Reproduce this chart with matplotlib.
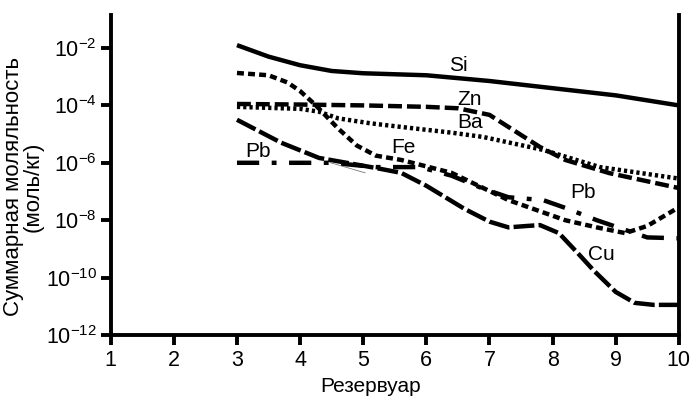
import numpy as np
import matplotlib
matplotlib.use('Agg')
import matplotlib.pyplot as plt

plt.rcParams['font.family'] = ['Liberation Sans', 'DejaVu Sans']
plt.rcParams['mathtext.fontset'] = 'custom'
plt.rcParams['mathtext.rm'] = 'Liberation Sans'
plt.rcParams['mathtext.it'] = 'Liberation Sans'
plt.rcParams['lines.scale_dashes'] = False

# reservoir number and log10 of molality
si_x = [3, 3.5, 4, 4.5, 5, 6, 7, 8, 9, 10]
si_y = [-1.9, -2.3, -2.6, -2.8, -2.88, -2.95, -3.15, -3.4, -3.65, -4.0]

zn_x = [3, 4, 5, 6, 6.5, 7, 7.3, 7.8, 8.2, 8.9, 10]
zn_y = [-3.95, -3.97, -4.0, -4.05, -4.1, -4.33, -4.75, -5.45, -5.9, -6.36, -6.88]

ba_x = [3, 4, 4.3, 4.6, 5.1, 5.6, 6.4, 6.9, 7.85, 8.75, 10]
ba_y = [-4.05, -4.12, -4.22, -4.45, -4.62, -4.75, -4.95, -5.1, -5.55, -6.15, -6.55]

fe_x = [3, 3.5, 3.8, 4.0, 4.25, 4.6, 4.9, 5.2, 5.6, 6.4, 7.3, 8.2, 8.7, 9.15, 9.5, 10]
fe_y = [-2.87, -2.95, -3.2, -3.5, -4.0, -4.8, -5.4, -5.75, -5.9, -6.35, -7.3, -8.0, -8.25, -8.45, -8.2, -7.55]

cu_x = [3, 3.7, 4.3, 5.2, 5.6, 6.0, 6.6, 7.0, 7.3, 7.6, 7.8, 8.1, 8.4, 8.65, 9.0, 9.3, 9.6, 10]
cu_y = [-4.5, -5.3, -5.83, -6.18, -6.35, -6.8, -7.6, -8.05, -8.25, -8.2, -8.17, -8.45, -9.15, -9.75, -10.5, -10.88, -10.95, -10.95]

pb_x = [3, 4.5, 5.2, 5.9, 6.4, 6.9, 7.3, 7.85, 8.2, 8.7, 9.5, 10]
pb_y = [-6.0, -6.0, -6.15, -6.15, -6.45, -6.9, -7.2, -7.3, -7.57, -8.0, -8.6, -8.63]

# faint thin stroke under the Pb line
thin_x = [4.47, 5.03]
thin_y = [-5.99, -6.35]

labels = ['Si', 'Zn', 'Ba', 'Fe', 'Pb', 'Pb', 'Cu']
label_x = [6.5, 6.69, 6.69, 5.63, 3.33, 8.48, 8.78]
label_y = [-2.6, -3.81, -4.61, -5.48, -5.62, -7.05, -9.2]

yticks = [-12, -10, -8, -6, -4, -2]
xticks = list(range(1, 11))

fig = plt.figure(figsize=(6.92, 4.0), dpi=100)
ax = fig.add_axes([0.160, 0.1625, 0.821, 0.80])

lw = 3.2
ax.plot(si_x, np.power(10.0, si_y), color='black', lw=lw, solid_capstyle='butt')
ax.plot(zn_x, np.power(10.0, zn_y), color='black', lw=lw, dashes=(10, 3.6), dash_capstyle='butt')
ax.plot(ba_x, np.power(10.0, ba_y), color='black', lw=lw, dashes=(2.3, 2.2), dash_capstyle='butt')
ax.plot(fe_x, np.power(10.0, fe_y), color='black', lw=lw, dashes=(5, 3), dash_capstyle='butt')
ax.plot(cu_x, np.power(10.0, cu_y), color='black', lw=lw, dashes=(15, 3), dash_capstyle='butt')
ax.plot(pb_x, np.power(10.0, pb_y), color='black', lw=lw, dashes=(16, 9, 3.5, 9), dash_capstyle='butt')
ax.plot(thin_x, np.power(10.0, thin_y), color='#777777', lw=0.6)

for t, x, y in zip(labels, label_x, label_y):
    ax.text(x, 10.0 ** y, t, fontsize=15, ha='center', va='center')

ax.set_yscale('log')
ax.set_xlim(1, 10)
ax.set_ylim(1e-12, 10 ** -0.85)
ax.set_yticks([10.0 ** t for t in yticks])
ax.set_yticklabels(['$10^{-%d}$' % -t for t in yticks])
ax.minorticks_off()
ax.set_xticks(xticks)
ax.set_xticklabels([str(t) for t in xticks])

ax.spines['top'].set_visible(False)
for s in ['left', 'right', 'bottom']:
    ax.spines[s].set_linewidth(2.8)
ax.tick_params(axis='both', which='major', width=2.8, length=7, direction='out', labelsize=15.5)
ax.tick_params(axis='y', pad=3)
ax.tick_params(axis='x', pad=4)

ax.set_xlabel('Резервуар', fontsize=15)
ax.xaxis.set_label_coords(0.458, -0.132)
ax.set_ylabel('Суммарная моляльность\n(моль/кг)', fontsize=16, linespacing=0.9)
ax.yaxis.set_label_coords(-0.118, 0.4625)

fig.savefig('out.png', dpi=100)
